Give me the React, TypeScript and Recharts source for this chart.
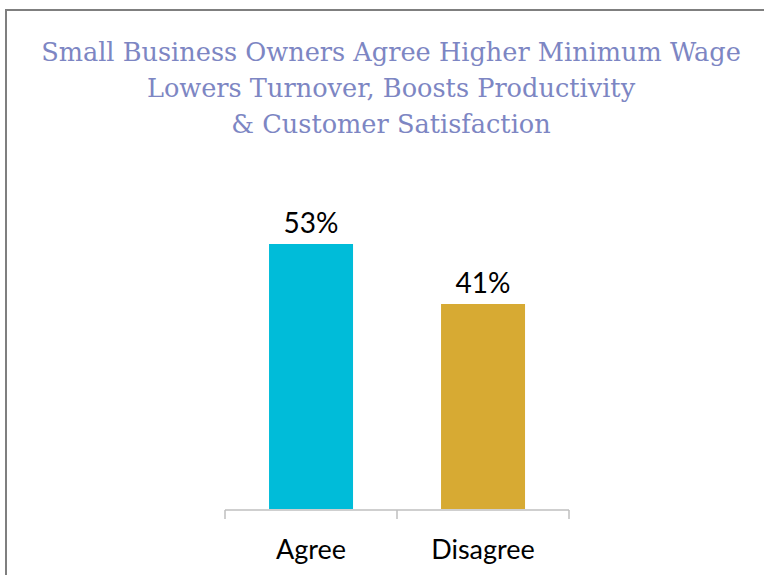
import React from "react";
import { BarChart, Bar, XAxis, YAxis, LabelList, Cell } from "recharts";

const categories = ["Agree", "Disagree"];
const shares = [53, 41];
const barColors = ["#00bcd9", "#d7aa33"];
const titleLines = [
  "Small Business Owners Agree Higher Minimum Wage",
  "Lowers Turnover, Boosts Productivity",
  "& Customer Satisfaction",
];
// category boundary positions for the tick marks on the base line
const edgeTicks = [0, 1, 2];

const data = categories.map((name, i) => ({ name, value: shares[i], edge: i }));

export default function App() {
  return (
    <div style={{ position: "fixed", left: 0, top: 0, width: 764, height: 575, overflow: "hidden", background: "#fff" }}>
      <div
        style={{
          position: "absolute",
          left: 5,
          top: 9,
          width: 800,
          height: 600,
          borderTop: "2px solid #7f7f7f",
          borderLeft: "2px solid #7f7f7f",
        }}
      />
      <div
        style={{
          position: "absolute",
          left: 0,
          top: 34,
          width: 782,
          textAlign: "center",
          fontFamily: "DejaVu Serif",
          fontSize: 25.6,
          lineHeight: "36px",
          color: "#7d86c3",
        }}
      >
        {titleLines.map((l) => (
          <div key={l}>{l}</div>
        ))}
      </div>
      <BarChart
        width={764}
        height={575}
        data={data}
        margin={{ top: 209, right: 195, bottom: 0, left: 225 }}
        barCategoryGap="25.6%"
        style={{ position: "absolute", left: 0, top: 0 }}
      >
        <XAxis
          dataKey="name"
          axisLine={false}
          tickLine={false}
          tickSize={0}
          tickMargin={31}
          height={1}
          tick={{ fill: "#000", fontSize: 27, fontFamily: "Lato" }}
        />
        <XAxis
          xAxisId="edge"
          type="number"
          dataKey="edge"
          domain={[0, 2]}
          ticks={edgeTicks}
          tickFormatter={() => ""}
          tickSize={9}
          height={65}
          stroke="#bfbfbf"
          strokeWidth={1.5}
        />
        <YAxis hide domain={[0, 60]} />
        <Bar dataKey="value" isAnimationActive={false}>
          {data.map((d, i) => (
            <Cell key={d.name} fill={barColors[i]} />
          ))}
          <LabelList
            dataKey="value"
            position="top"
            offset={11}
            formatter={(v: number) => `${v}%`}
            style={{ fill: "#000", fontSize: 28, fontFamily: "Lato" }}
          />
        </Bar>
      </BarChart>
    </div>
  );
}
